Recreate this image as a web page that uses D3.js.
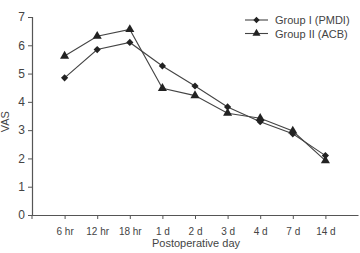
<!DOCTYPE html>
<html>
<head>
<meta charset="utf-8">
<script src="https://cdn.jsdelivr.net/npm/d3@7"></script>
<style>
  body { margin: 0; background: #fff; }
  text { font-family: "Liberation Sans", Arial, sans-serif; fill: #444; }
</style>
</head>
<body>
<svg id="chart" width="360" height="253"></svg>
<script>
// data
const days = ["6 hr", "12 hr", "18 hr", "1 d", "2 d", "3 d", "4 d", "7 d", "14 d"]
const groupI = [4.85, 5.85, 6.1, 5.27, 4.56, 3.82, 3.3, 2.87, 2.1]
const groupII = [5.62, 6.32, 6.56, 4.48, 4.22, 3.6, 3.42, 2.97, 1.92]
const seriesNames = ["Group I (PMDI)", "Group II (ACB)"]
const yTicks = [0, 1, 2, 3, 4, 5, 6, 7]

const svg = d3.select("#chart")
const margin = {left: 32, right: 2, top: 17, bottom: 38}
const W = 360, H = 253
const col = "#555"

const x = d3.scaleLinear().domain([0, days.length + 1]).range([margin.left, W - margin.right])
const y = d3.scaleLinear().domain([0, 7]).range([H - margin.bottom, margin.top])

// y axis
const yAxis = svg.append("g")
    .attr("transform", "translate(" + margin.left + ",0)")
    .call(d3.axisLeft(y).tickValues(yTicks).tickFormat(d3.format("d")).tickSize(4).tickPadding(3))
yAxis.select(".domain").attr("stroke", col).attr("stroke-width", 1.2)
yAxis.selectAll("line").attr("stroke", col)
yAxis.selectAll("text").attr("font-size", 12).attr("fill", "#444").style("font-family", "Liberation Sans, Arial")

// x axis
const xAxis = svg.append("g")
    .attr("transform", "translate(0," + y(0) + ")")
    .call(d3.axisBottom(x).tickValues(d3.range(1, days.length + 1))
        .tickFormat(i => days[i - 1]).tickSize(4).tickSizeOuter(0).tickPadding(9))
xAxis.select(".domain").attr("stroke", col).attr("stroke-width", 1.2)
xAxis.selectAll("line").attr("stroke", col)
xAxis.selectAll("text").attr("font-size", 10).attr("fill", "#444").style("font-family", "Liberation Sans, Arial")
// left tick at 0 on x-axis
svg.append("line")
    .attr("x1", margin.left).attr("x2", margin.left)
    .attr("y1", y(0)).attr("y2", y(0) + 4)
    .attr("stroke", col)

// axis titles
svg.append("text")
    .attr("transform", "translate(9," + y(3.3) + ") rotate(-90)")
    .attr("text-anchor", "middle")
    .attr("font-size", 11)
    .text("VAS")
svg.append("text")
    .attr("x", 196).attr("y", 247)
    .attr("text-anchor", "middle")
    .attr("font-size", 11)
    .text("Postoperative day")

const line = d3.line().x((d, i) => x(i + 1)).y(d => y(d))

function drawSeries(vals, shape, color) {
    svg.append("path")
        .datum(vals)
        .attr("d", line)
        .attr("fill", "none")
        .attr("stroke", color)
        .attr("stroke-width", 1.1)
    const isDiamond = shape === d3.symbolDiamond
    svg.selectAll(null)
        .data(vals)
        .enter()
        .append("path")
        .attr("d", d3.symbol().type(isDiamond ? d3.symbolSquare : shape).size(isDiamond ? 26 : 36))
        .attr("transform", (d, i) => "translate(" + x(i + 1) + "," + y(d) + ")" + (isDiamond ? " rotate(45)" : ""))
        .attr("fill", "#222")
}
drawSeries(groupI, d3.symbolDiamond, "#444")
drawSeries(groupII, d3.symbolTriangle, "#444")

// legend
const legend = svg.append("g")
const shapes = [d3.symbolSquare, d3.symbolTriangle]
seriesNames.forEach((name, i) => {
    const ly = 20 + i * 13.5
    legend.append("line")
        .attr("x1", 245).attr("x2", 268)
        .attr("y1", ly).attr("y2", ly)
        .attr("stroke", "#444").attr("stroke-width", 1.1)
    legend.append("path")
        .attr("d", d3.symbol().type(shapes[i]).size(i === 0 ? 20 : 28))
        .attr("transform", "translate(256.5," + ly + ")" + (i === 0 ? " rotate(45)" : ""))
        .attr("fill", "#222")
    legend.append("text")
        .attr("x", 275).attr("y", ly + 4)
        .attr("font-size", 11)
        .text(name)
})
</script>
</body>
</html>
